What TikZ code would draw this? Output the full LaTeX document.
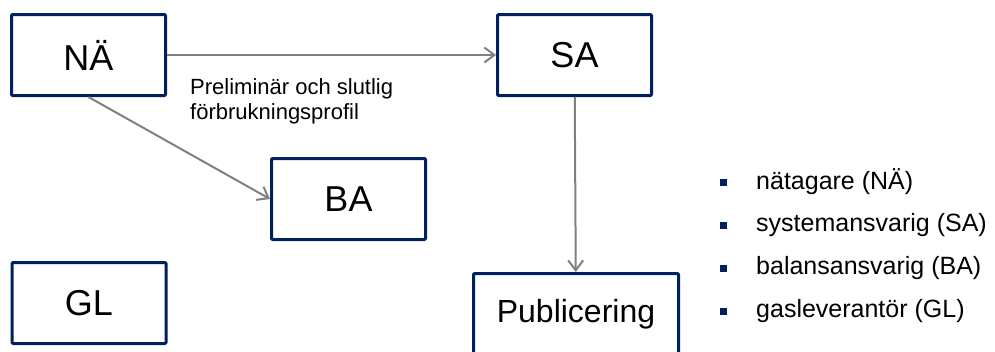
\documentclass[tikz,border=0pt]{standalone}
\usepackage{fontspec}
\setmainfont{Liberation Sans}
\usetikzlibrary{arrows.meta}
\definecolor{boxblue}{HTML}{002060}
\definecolor{arrowgray}{HTML}{808080}
\begin{document}
\begin{tikzpicture}[x=1pt,y=-1pt,line join=round,>={Straight Barb[length=10pt,width=15pt]}]
	\tikzset{rolebox/.style={draw=boxblue,line width=3pt,rounded corners=1pt,minimum width=154pt,minimum height=81pt,inner sep=0pt,font=\fontsize{36}{40}\selectfont}}
	\tikzset{flow/.style={draw=arrowgray,line width=2pt,->}}
	\useasboundingbox (0,0) rectangle (995,351);
	\node[rolebox] (na) at (88.5,55) {NÄ};
	\node[rolebox] (sa) at (574.5,55) {SA};
	\node[rolebox] (ba) at (348.5,199) {BA};
	\node[rolebox] (gl) at (89,303) {GL};
	\node[rolebox,minimum width=205pt,font=\fontsize{32}{36}\selectfont] (pub) at (576,314) {Publicering};
	\draw[flow] (na) -- (sa);
	\draw[flow] (na.south) -- (ba.west);
	\draw[flow] (sa) -- (pub);
	\node[anchor=north west,align=left,inner sep=0pt,font=\fontsize{22}{25}\selectfont] (profil) at (190,78) {Preliminär och slutlig\\förbrukningsprofil};
	\foreach \txt [count=\i] in {nätagare (NÄ),systemansvarig (SA),balansansvarig (BA),gasleverantör (GL)} {
		\node[fill=boxblue,minimum size=7pt,inner sep=0pt] (b\i) at (723,139+43*\i) {};
		\node[anchor=west,inner sep=0pt,font=\fontsize{25}{30}\selectfont] (leg\i) at (756,139+43*\i) {\txt};
	}
\end{tikzpicture}
\end{document}
